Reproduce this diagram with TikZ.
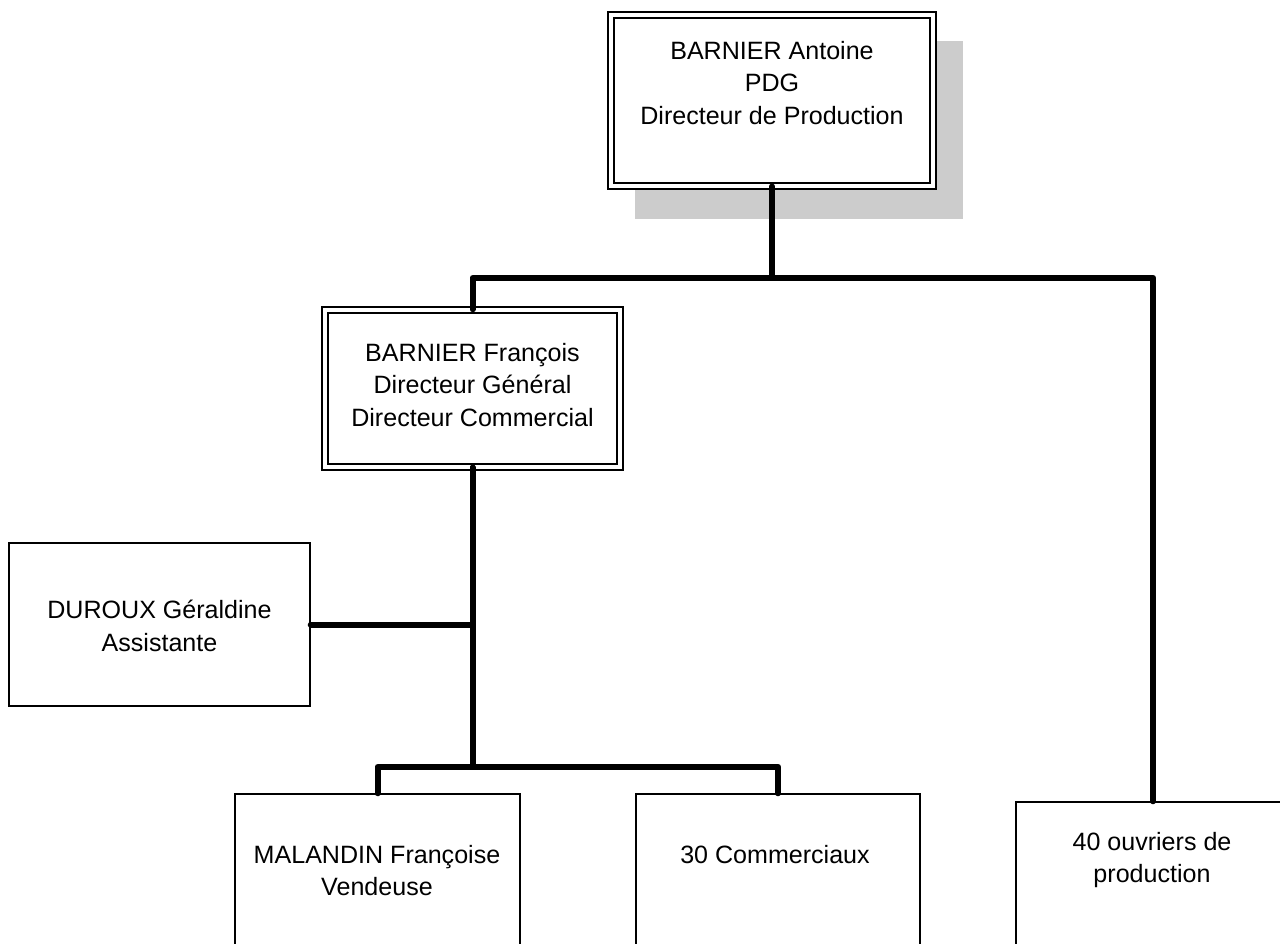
\documentclass[tikz,border=0pt]{standalone}
\usepackage{fontspec}
\setmainfont{Liberation Sans}
\definecolor{shadowgray}{RGB}{204, 204, 204}

\begin{document}
\begin{tikzpicture}[x=0.75pt, y=-0.75pt,
    box/.style={draw, line width=1.1pt, fill=white, inner sep=0pt},
    dbox/.style={box, double, double distance=3.2pt},
    boxtext/.style={align=center, inner sep=0pt, anchor=north,
      font=\fontsize{18.8}{24.4}\selectfont},
    link/.style={line width=4.5pt, line cap=round, line join=round}]

  \useasboundingbox (0, 0) rectangle (1280, 943);
  \clip (0, 0) rectangle (1280, 943);

  % shadow behind the top box
  \fill[shadowgray] (635, 41) rectangle (963, 219);

  \node[dbox, minimum width=241.5pt, minimum height=128.25pt] (boss) at (772, 100.5) {};
  \node[dbox, minimum width=221.25pt, minimum height=117.75pt] (dg) at (472.5, 388.5) {};
  \node[box, minimum width=225.75pt, minimum height=122.25pt] (assist) at (159.5, 624.5) {};
  \node[box, minimum width=213.75pt, minimum height=115.5pt] (vend) at (377.5, 871) {};
  \node[box, minimum width=213pt, minimum height=115.5pt] (comm) at (778, 871) {};
  \node[box, minimum width=205.5pt, minimum height=115.5pt] (ouvr) at (1153, 879) {};

  \node[boxtext] (bossname) at (772, 41) {BARNIER Antoine\\PDG\\Directeur de Production};
  \node[boxtext] (dgname) at (472.5, 343) {BARNIER François\\Directeur Général\\Directeur Commercial};
  \node[boxtext] (assistname) at (159.5, 600) {DUROUX Géraldine\\Assistante};
  \node[boxtext] (vendname) at (377, 845) {MALANDIN Françoise\\Vendeuse};
  \node[boxtext] (commname) at (775, 845) {30 Commerciaux};
  \node[boxtext] (ouvrname) at (1152, 832) {40 ouvriers de\\production};

  % links
  \draw[link] (boss.south) -- ++(0, 91) -| (dg.north);
  \draw[link] (boss.south) -- ++(0, 91) -| (ouvr.north);
  \draw[link] (assist.east) -| (dg.south);
  \draw[link] (dg.south) -- ++(0, 299) -| (vend.north);
  \draw[link] (dg.south) -- ++(0, 299) -| (comm.north);
\end{tikzpicture}
\end{document}
